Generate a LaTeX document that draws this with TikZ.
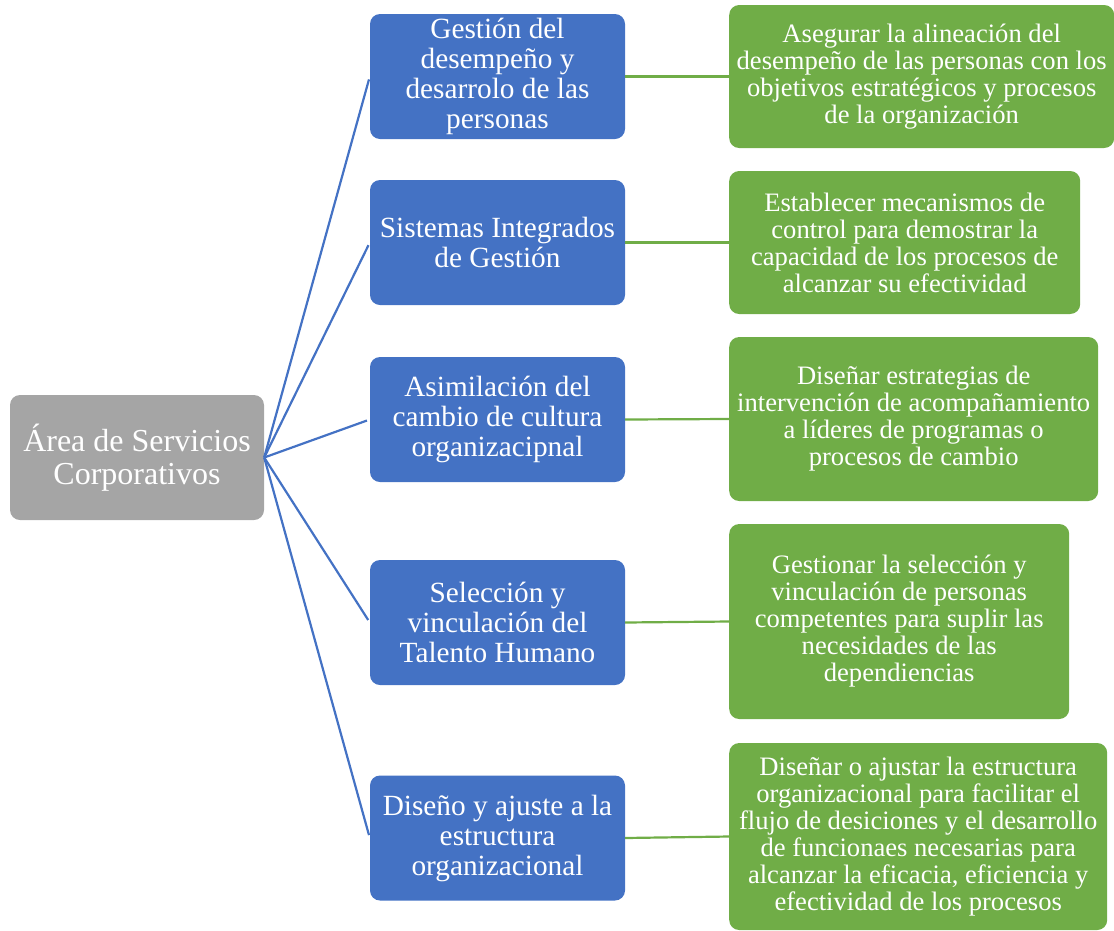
\documentclass[tikz,border=0pt]{standalone}
\usepackage{fontspec}
\setmainfont{Liberation Serif}
\usetikzlibrary{positioning}
\definecolor{RootGray}{HTML}{A5A5A5}
\definecolor{AreaBlue}{HTML}{4472C4}
\definecolor{GoalGreen}{HTML}{70AD47}
\begin{document}
\begin{tikzpicture}[x = 1pt, y = -1pt]
\tikzstyle{RootStyle}=[shape = rectangle,
                       rounded corners = 10pt,
                       fill = RootGray,
                       text = white,
                       align = center,
                       minimum width = 254pt,
                       minimum height = 125pt,
                       font = \fontsize{32}{33}\selectfont]
\tikzstyle{AreaStyle}=[shape = rectangle,
                       rounded corners = 10pt,
                       fill = AreaBlue,
                       text = white,
                       align = center,
                       minimum width = 255pt,
                       minimum height = 125pt,
                       inner sep = 2pt,
                       font = \fontsize{29.3}{30}\selectfont]
\tikzstyle{GoalStyle}=[shape = rectangle,
                       rounded corners = 10pt,
                       fill = GoalGreen,
                       text = white,
                       align = center,
                       anchor = west,
                       inner sep = 2pt,
                       font = \fontsize{26.6}{27}\selectfont]
\tikzstyle{RootEdge}=[draw = AreaBlue, line width = 2.2pt, shorten > = 3pt]
\tikzstyle{GoalEdge}=[draw = GoalGreen, line width = 2.2pt]
\useasboundingbox (0,0) rectangle (1114,930);
% root
\node[RootStyle] (root) at (137, 457.5) {Área de Servicios\\Corporativos};
% areas
\node[AreaStyle] (a1) at (497.5, 76.5) {Gestión del\\desempeño y\\desarrolo de las\\personas};
\node[AreaStyle] (a2) at (497.5, 242.5) {Sistemas Integrados\\de Gestión};
\node[AreaStyle] (a3) at (497.5, 419.5) {Asimilación del\\cambio de cultura\\organizacipnal};
\node[AreaStyle] (a4) at (497.5, 622.5) {Selección y\\vinculación del\\Talento Humano};
\node[AreaStyle] (a5) at (497.5, 838) {Diseño y ajuste a la\\estructura\\organizacional};
% goals
\node[GoalStyle, minimum width = 385pt, minimum height = 143pt] (g1) at (729, 76.5) {Asegurar la alineación del\\desempeño de las personas con los\\objetivos estratégicos y procesos\\de la organización};
\node[GoalStyle, minimum width = 351pt, minimum height = 143pt] (g2) at (729, 242.5) {Establecer mecanismos de\\control para demostrar la\\capacidad de los procesos de\\alcanzar su efectividad};
\node[GoalStyle, minimum width = 369pt, minimum height = 164pt] (g3) at (729, 419) {Diseñar estrategias de\\intervención de acompañamiento\\a líderes de programas o\\procesos de cambio};
\node[GoalStyle, minimum width = 340pt, minimum height = 195pt] (g4) at (729, 621.5) {Gestionar la selección y\\vinculación de personas\\competentes para suplir las\\necesidades de las\\dependiencias};
\node[GoalStyle, minimum width = 378pt, minimum height = 187pt] (g5) at (729, 836.5) {Diseñar o ajustar la estructura\\organizacional para facilitar el\\flujo de desiciones y el desarrollo\\de funcionaes necesarias para\\alcanzar la eficacia, eficiencia y\\efectividad de los procesos};
% connectors
\foreach \i in {1,...,5}
{
\draw[RootEdge] (root.east) -- (a\i.west);
\draw[GoalEdge] (a\i.east) -- (g\i.west);
}
\end{tikzpicture}
\end{document}
